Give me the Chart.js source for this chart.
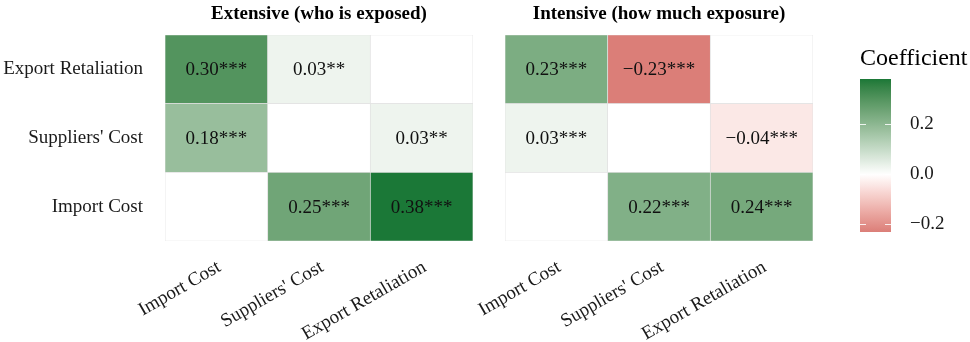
<!DOCTYPE html>
<html>
<head>
<meta charset="utf-8">
<script src="https://cdn.jsdelivr.net/npm/chart.js@4/dist/chart.umd.min.js"></script>
<style>
  html, body { margin: 0; padding: 0; background: #ffffff; }
  #wrap { position: relative; width: 970px; height: 342px; overflow: hidden; background: #ffffff; }
  #wrap canvas { position: absolute; top: 0; }
</style>
</head>
<body>
<div id="wrap">
  <canvas id="extensive" width="490" height="342" style="left:0px"></canvas>
  <canvas id="intensive" width="410" height="342" style="left:430px"></canvas>
  <canvas id="legend" width="130" height="342" style="left:840px"></canvas>
</div>
<script>
// Shock types on the horizontal axis (left to right)
const COLUMNS = ["Import Cost", "Suppliers' Cost", "Export Retaliation"];
// Shock types on the vertical axis (bottom to top)
const ROWS = ["Import Cost", "Suppliers' Cost", "Export Retaliation"];

// Coefficients indexed [row][column]; row 0 is the bottom row. null = no estimate.
const EXTENSIVE_COEF = [
  [null, 0.25, 0.38],
  [0.18, null, 0.03],
  [0.30, 0.03, null]
];
const EXTENSIVE_SIG = [
  ["", "***", "***"],
  ["***", "", "**"],
  ["***", "**", ""]
];
const INTENSIVE_COEF = [
  [null, 0.22, 0.24],
  [0.03, null, -0.04],
  [0.23, -0.23, null]
];
const INTENSIVE_SIG = [
  ["", "***", "***"],
  ["***", "", "***"],
  ["***", "***", ""]
];
const LEGEND_TICKS = [-0.2, 0.0, 0.2];

const SERIF = '"Liberation Serif", "Times New Roman", Times, serif';
const TEXT_COLOR = '#1a1a1a';
const LOW = '#b2182b', MID = '#ffffff', HIGH = '#1b7837';

// ---- colour scale: diverging gradient around 0, interpolated in CIE Lab ----
function hexToRgb(h) { return [1, 3, 5].map(i => parseInt(h.slice(i, i + 2), 16)); }
function toLin(c) { c /= 255; return c <= 0.04045 ? c / 12.92 : Math.pow((c + 0.055) / 1.055, 2.4); }
function fromLin(c) {
  const v = c <= 0.0031308 ? 12.92 * c : 1.055 * Math.pow(c, 1 / 2.4) - 0.055;
  return Math.round(Math.min(1, Math.max(0, v)) * 255);
}
function rgbToLab(rgb) {
  const [r, g, b] = rgb.map(toLin);
  const X = (0.4124564 * r + 0.3575761 * g + 0.1804375 * b) / 0.95047;
  const Y = (0.2126729 * r + 0.7151522 * g + 0.0721750 * b);
  const Z = (0.0193339 * r + 0.1191920 * g + 0.9503041 * b) / 1.08883;
  const f = t => t > 0.008856 ? Math.cbrt(t) : 7.787 * t + 16 / 116;
  const fx = f(X), fy = f(Y), fz = f(Z);
  return [116 * fy - 16, 500 * (fx - fy), 200 * (fy - fz)];
}
function labToRgb(lab) {
  const fy = (lab[0] + 16) / 116, fx = fy + lab[1] / 500, fz = fy - lab[2] / 200;
  const inv = t => { const t3 = t * t * t; return t3 > 0.008856 ? t3 : (t - 16 / 116) / 7.787; };
  const X = inv(fx) * 0.95047, Y = inv(fy), Z = inv(fz) * 1.08883;
  const r = 3.2404542 * X - 1.5371385 * Y - 0.4985314 * Z;
  const g = -0.9692660 * X + 1.8760108 * Y + 0.0415560 * Z;
  const b = 0.0556434 * X - 0.2040259 * Y + 1.0572252 * Z;
  return [fromLin(r), fromLin(g), fromLin(b)];
}
const LAB_LOW = rgbToLab(hexToRgb(LOW)), LAB_MID = rgbToLab(hexToRgb(MID)), LAB_HIGH = rgbToLab(hexToRgb(HIGH));

const ALL_VALUES = EXTENSIVE_COEF.flat().concat(INTENSIVE_COEF.flat()).filter(v => v !== null);
const LIMITS = [Math.min(...ALL_VALUES), Math.max(...ALL_VALUES)];
const MAX_ABS = Math.max(Math.abs(LIMITS[0]), Math.abs(LIMITS[1]));

function fillFor(v) {
  if (v === null) return '#ffffff';
  const t = v / (2 * MAX_ABS) + 0.5;
  let a, b, s;
  if (t < 0.5) { a = LAB_LOW; b = LAB_MID; s = t / 0.5; }
  else { a = LAB_MID; b = LAB_HIGH; s = (t - 0.5) / 0.5; }
  const lab = [0, 1, 2].map(i => a[i] + (b[i] - a[i]) * s);
  const [r, g, bl] = labToRgb(lab);
  return `rgb(${r},${g},${bl})`;
}

function fmt(v, digits) {
  const s = Math.abs(v).toFixed(digits);
  return (v < 0 ? '\u2212' : '') + s;
}

// ---- plugins ----
const panelTitle = {
  id: 'panelTitle',
  afterDraw(chart, args, opts) {
    const { ctx, chartArea } = chart;
    ctx.save();
    ctx.font = `bold 19px ${SERIF}`;
    ctx.fillStyle = '#000000';
    ctx.textAlign = 'center';
    ctx.textBaseline = 'alphabetic';
    ctx.fillText(opts.text, (chartArea.left + chartArea.right) / 2, 19);
    ctx.restore();
  }
};

const cellLabels = {
  id: 'cellLabels',
  afterDatasetsDraw(chart, args, opts) {
    const { ctx } = chart;
    ctx.save();
    ctx.font = `19px ${SERIF}`;
    ctx.fillStyle = '#111111';
    ctx.textAlign = 'center';
    ctx.textBaseline = 'middle';
    chart.data.datasets.forEach((ds, r) => {
      chart.getDatasetMeta(r).data.forEach((bar, c) => {
        const v = opts.coef[r][c];
        if (v === null) return;
        const p = bar.getCenterPoint();
        ctx.fillText(fmt(v, 2) + opts.sig[r][c], p.x, p.y + 1);
      });
    });
    ctx.restore();
  }
};

function heatmap(canvasId, title, coef, sig, showRows, padding, yWidth) {
  const datasets = ROWS.map((row, r) => ({
    label: row,
    data: COLUMNS.map(() => [r, r + 1]),
    backgroundColor: COLUMNS.map((_, c) => fillFor(coef[r][c])),
    borderColor: '#e2e2e2',
    borderWidth: 0.7,
    borderSkipped: false,
    grouped: false,
    categoryPercentage: 1,
    barPercentage: 1
  }));
  return new Chart(document.getElementById(canvasId), {
    type: 'bar',
    data: { labels: COLUMNS, datasets },
    plugins: [panelTitle, cellLabels],
    options: {
      responsive: false,
      animation: false,
      devicePixelRatio: 1,
      layout: { padding },
      plugins: {
        legend: { display: false },
        tooltip: { enabled: false },
        panelTitle: { text: title },
        cellLabels: { coef, sig }
      },
      scales: {
        x: {
          type: 'category',
          offset: true,
          grid: { display: false },
          border: { display: false },
          ticks: {
            minRotation: 30, maxRotation: 30,
            autoSkip: false,
            padding: 7,
            labelOffset: 3,
            color: TEXT_COLOR,
            font: { family: SERIF, size: 19 }
          },
          afterFit(axis) { axis.height = 101; }
        },
        y: {
          type: 'linear',
          display: showRows,
          min: 0, max: ROWS.length,
          grid: { display: false },
          border: { display: false },
          afterBuildTicks(axis) { axis.ticks = ROWS.map((_, i) => ({ value: i + 0.5 })); },
          ticks: {
            callback: v => ROWS[Math.floor(v)],
            padding: 14,
            color: TEXT_COLOR,
            font: { family: SERIF, size: 19 }
          },
          afterFit(axis) { axis.width = yWidth; }
        }
      }
    }
  });
}

heatmap('extensive', 'Extensive (who is exposed)', EXTENSIVE_COEF, EXTENSIVE_SIG, true,
  { top: 35, right: 17, bottom: 0, left: 0 }, 165);
heatmap('intensive', 'Intensive (how much exposure)', INTENSIVE_COEF, INTENSIVE_SIG, false,
  { top: 35, right: 27, bottom: 0, left: 75 }, 0);

// ---- colour bar legend ----
const colorbarDecor = {
  id: 'colorbarDecor',
  afterDatasetsDraw(chart) {
    const { ctx, chartArea, scales } = chart;
    ctx.save();
    ctx.strokeStyle = 'rgba(255,255,255,0.85)';
    ctx.lineWidth = 1;
    LEGEND_TICKS.forEach(v => {
      const y = Math.round(scales.y.getPixelForValue(v)) + 0.5;
      ctx.beginPath();
      ctx.moveTo(chartArea.left, y); ctx.lineTo(chartArea.left + 6, y);
      ctx.moveTo(chartArea.right - 6, y); ctx.lineTo(chartArea.right, y);
      ctx.stroke();
    });
    ctx.restore();
  },
  afterDraw(chart) {
    const { ctx, chartArea } = chart;
    ctx.save();
    ctx.font = `24px ${SERIF}`;
    ctx.fillStyle = '#000000';
    ctx.textAlign = 'left';
    ctx.textBaseline = 'alphabetic';
    ctx.fillText('Coefficient', chartArea.left, 65);
    ctx.restore();
  }
};

new Chart(document.getElementById('legend'), {
  type: 'bar',
  data: {
    labels: ['Coefficient'],
    datasets: [{
      data: [[LIMITS[0], LIMITS[1]]],
      categoryPercentage: 1,
      barPercentage: 1,
      borderWidth: 0,
      backgroundColor(ctx) {
        const chart = ctx.chart;
        if (!chart.chartArea) return '#ffffff';
        const ys = chart.scales.y;
        const y0 = ys.getPixelForValue(LIMITS[0]), y1 = ys.getPixelForValue(LIMITS[1]);
        const g = chart.ctx.createLinearGradient(0, y0, 0, y1);
        const n = 48;
        for (let k = 0; k <= n; k++) {
          g.addColorStop(k / n, fillFor(LIMITS[0] + (LIMITS[1] - LIMITS[0]) * k / n));
        }
        return g;
      }
    }]
  },
  plugins: [colorbarDecor],
  options: {
    responsive: false,
    animation: false,
    devicePixelRatio: 1,
    layout: { padding: { top: 79, bottom: 110, left: 20, right: 0 } },
    plugins: { legend: { display: false }, tooltip: { enabled: false } },
    scales: {
      x: { display: false, offset: true },
      y: {
        type: 'linear',
        position: 'right',
        min: LIMITS[0], max: LIMITS[1],
        grid: { display: false },
        border: { display: false },
        afterBuildTicks(axis) { axis.ticks = LEGEND_TICKS.map(v => ({ value: v })); },
        ticks: {
          callback: v => fmt(v, 1),
          padding: 11,
          color: TEXT_COLOR,
          font: { family: SERIF, size: 19 }
        },
        afterFit(axis) { axis.width = 79; }
      }
    }
  }
});
</script>
</body>
</html>
